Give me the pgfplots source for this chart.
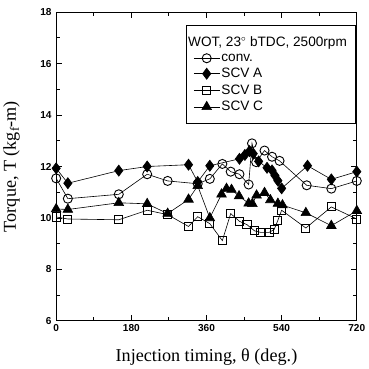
\documentclass[border=0pt]{standalone}
\usepackage{pgfplots}
\pgfplotsset{compat=1.18}
\usepackage{fontspec}
\setmainfont{Liberation Serif}
\setsansfont{Liberation Sans}
\begin{document}
\begin{tikzpicture}
\begin{axis}[
  scale only axis,
  width=297bp, height=305bp,
  xmin=0, xmax=720, ymin=6, ymax=18,
  xtick={0,180,360,540,720},
  ytick={6,8,10,12,14,16,18},
  minor x tick num=1, minor y tick num=1,
  tick align=inside,
  major tick length=6bp, minor tick length=3.5bp,
  axis line style={line width=1.1pt},
  every tick/.style={black, line width=0.8pt},
  tick label style={font=\sffamily\bfseries\fontsize{10}{11}\selectfont},
  /pgf/number format/assume math mode=true,
  yticklabel style={xshift=-1bp},
  xlabel={Injection timing, θ (deg.)},
  ylabel={Torque, T (kg$_{\mathrm{f}}$-m)},
  label style={font=\fontsize{18}{20}\selectfont},
  xlabel style={at={(rel axis cs:0.5,0)}, anchor=center, yshift=-36bp},
  ylabel style={at={(rel axis cs:0,0.5)}, anchor=center, yshift=44bp},
  extra description/.code={\path (rel axis cs:0,1) ++(0,12bp);},
  legend cell align=left,
  legend image code/.code={\draw[mark repeat=2,mark phase=2,#1] plot coordinates {(0cm,0cm)(0.45cm,0cm)(0.9cm,0cm)};},
  legend style={at={(0.997,0.957)}, anchor=north east, draw=black, line width=0.8pt,
    font=\sffamily\fontsize{13.5}{15}\selectfont, row sep=3.5pt, inner xsep=7pt, inner ysep=10pt,
    nodes={inner xsep=1.5pt, inner ysep=1pt}},
  every axis plot/.append style={black, line width=0.6pt},
]
\addlegendimage{empty legend}
\addlegendentry{\hspace{-33pt}WOT, 23$^\circ$ bTDC, 2500rpm}
% conv.
\addplot[mark=o, mark size=4.5pt, mark options={fill=white, line width=0.9pt}] coordinates {
(0,11.54)(28,10.75)(150,10.92)(218,11.7)(267,11.44)(339,11.33)(368,11.52)(398,12.1)(418,11.8)(439,11.7)(461,11.3)(469,12.9)(479,12.17)(499,12.62)(517,12.38)(535,12.22)(600,11.27)(659,11.14)(720,11.44)};
\addlegendentry{conv.}
% SCV A
\addplot[mark=diamond*, mark size=5.5pt, mark options={fill=black}] coordinates {
(0,11.93)(28,11.35)(150,11.84)(218,12.0)(317,12.07)(339,11.4)(368,12.03)(439,12.3)(452,12.45)(463,12.6)(472,12.5)(485,12.2)(505,11.95)(517,11.85)(524,11.65)(531,11.45)(540,11.15)(602,12.03)(659,11.5)(720,11.8)};
\addlegendentry{SCV A}
% SCV B
\addplot[mark=square, mark size=4pt, mark options={fill=white, line width=0.9pt}] coordinates {
(0,10.04)(28,9.96)(150,9.93)(218,10.3)(267,10.13)(317,9.67)(339,10.05)(368,9.78)(398,9.12)(418,10.17)(439,9.87)(457,9.74)(475,9.5)(490,9.44)(510,9.44)(522,9.55)(531,9.91)(540,10.3)(598,9.61)(659,10.43)(720,9.96)};
\addlegendentry{SCV B}
% SCV C
\addplot[mark=triangle*, mark size=5.5pt, mark options={fill=black}] coordinates {
(0,10.35)(28,10.33)(150,10.59)(218,10.55)(267,10.17)(317,10.72)(339,11.25)(368,10.0)(396,10.92)(408,11.14)(420,11.1)(438,10.85)(461,10.57)(470,10.55)(480,10.88)(499,10.98)(513,10.7)(531,10.56)(542,10.5)(598,10.2)(659,9.7)(720,10.28)};
\addlegendentry{SCV C}
\end{axis}
\end{tikzpicture}
\end{document}
